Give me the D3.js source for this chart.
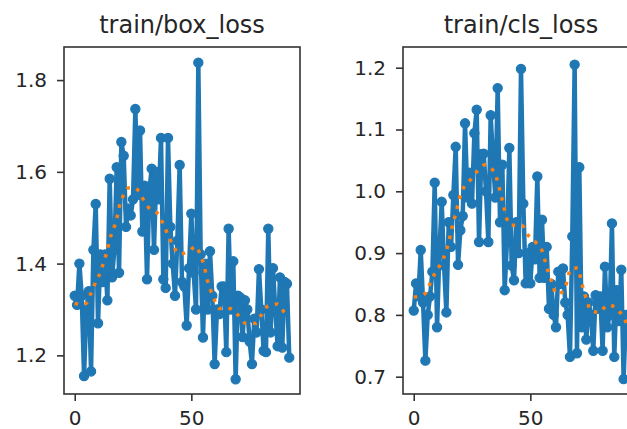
<!DOCTYPE html>
<html lang="en">
<head>
    <meta charset="UTF-8">
    <title>train losses</title>
    <script src="https://d3js.org/d3.v7.min.js"></script>
    <style>
        body { margin: 0; background: #fff; }
        text { font-family: "DejaVu Sans", sans-serif; fill: #262626; }
    </style>
</head>
<body>
    <div id="chart"></div>

    <script>
        // Data
        var epochs = d3.range(0, 93);

        var boxLoss = [1.33, 1.31, 1.40, 1.33, 1.155, 1.30, 1.34, 1.165, 1.43, 1.53,
            1.27, 1.42, 1.36, 1.42, 1.32, 1.585, 1.37, 1.43, 1.61, 1.38,
            1.665, 1.635, 1.48, 1.52, 1.505, 1.54, 1.737, 1.55, 1.69, 1.47,
            1.57, 1.366, 1.56, 1.607, 1.43, 1.60, 1.54, 1.674, 1.366, 1.347,
            1.674, 1.48, 1.40, 1.33, 1.45, 1.615, 1.36, 1.35, 1.265, 1.39,
            1.509, 1.38, 1.30, 1.838, 1.42, 1.239, 1.40, 1.30, 1.427, 1.33,
            1.181, 1.30, 1.29, 1.35, 1.35, 1.207, 1.476, 1.30, 1.405, 1.148,
            1.33, 1.326, 1.24, 1.32, 1.30, 1.23, 1.181, 1.28, 1.25, 1.388,
            1.30, 1.21, 1.207, 1.476, 1.25, 1.39, 1.30, 1.22, 1.37, 1.217,
            1.36, 1.356, 1.195];

        var clsLoss = [0.807, 0.851, 0.83, 0.905, 0.82, 0.726, 0.80, 0.83, 0.87, 1.014,
            0.78, 0.90, 0.983, 0.88, 0.804, 0.95, 0.91, 0.994, 1.072, 0.881,
            0.937, 0.96, 1.110, 0.99, 1.03, 0.98, 1.094, 1.132, 0.918, 1.06,
            1.061, 1.00, 0.918, 1.123, 1.05, 0.99, 1.167, 0.95, 1.043, 0.84,
            0.92, 1.07, 0.88, 0.856, 0.95, 0.90, 1.198, 0.98, 0.851, 0.90,
            0.851, 0.91, 0.89, 1.024, 0.86, 0.954, 0.86, 0.91, 0.81, 0.85,
            0.80, 0.78, 0.87, 0.85, 0.875, 0.82, 0.80, 0.732, 0.927, 1.205,
            0.738, 1.039, 0.78, 0.83, 0.76, 0.82, 0.80, 0.742, 0.832, 0.81,
            0.83, 0.742, 0.878, 0.78, 0.80, 0.948, 0.732, 0.84, 0.79, 0.873,
            0.696, 0.80, 0.77];

        // smoothed curves (orange dotted) as [epoch, value]
        var boxSmooth = [[0, 1.314], [3, 1.31], [5, 1.314], [7, 1.336], [9, 1.36], [11, 1.381],
            [12.5, 1.405], [14, 1.43], [15, 1.452], [16.5, 1.474], [18, 1.497], [19, 1.522],
            [20.5, 1.545], [23, 1.565], [25, 1.566], [27.5, 1.558], [29.5, 1.539], [32, 1.52],
            [36, 1.507], [38, 1.485], [40, 1.463], [42, 1.441], [45, 1.421], [49, 1.427],
            [52, 1.438], [54, 1.416], [55.7, 1.392], [56.6, 1.369], [58, 1.346], [59.7, 1.323],
            [62, 1.302], [66.5, 1.302], [70, 1.288], [73.3, 1.27], [77.5, 1.27], [80, 1.288],
            [83, 1.308], [87, 1.312], [90, 1.293], [92, 1.285]];

        var clsSmooth = [[0, 0.829], [2, 0.83], [5, 0.835], [7, 0.851], [9.3, 0.869], [11.6, 0.883],
            [13.6, 0.9], [15, 0.917], [16, 0.935], [17.2, 0.952], [18.4, 0.97], [19.5, 0.987],
            [21.3, 1.005], [24.2, 1.018], [27.1, 1.032], [30.7, 1.043], [34.3, 1.032], [36.1, 1.014],
            [37.2, 0.997], [38.4, 0.979], [39.4, 0.962], [41.6, 0.945], [46.4, 0.945], [48.8, 0.93],
            [52.4, 0.917], [55, 0.904], [56.5, 0.885], [57.8, 0.868], [59.4, 0.851], [61.1, 0.834],
            [64.3, 0.839], [65.8, 0.855], [67.2, 0.874], [70.3, 0.876], [71.6, 0.859], [72.7, 0.842],
            [74.2, 0.824], [75.9, 0.807], [79.7, 0.804], [82.9, 0.816], [87, 0.811], [89.8, 0.796],
            [92, 0.782]];

        var xTicks = [0, 50];
        var boxTicks = [1.2, 1.4, 1.6, 1.8];
        var clsTicks = [0.7, 0.8, 0.9, 1.0, 1.1, 1.2];

        // Dimensions
        var width = 627;
        var height = 429;
        var frameTop = 47, frameBottom = 394, panelW = 236;

        var svg = d3.select("#chart")
            .append("svg")
            .attr("width", width)
            .attr("height", height);

        function panel(id, left, title, values, smooth, yDomain, yTicks) {
            var x = d3.scaleLinear().domain([-4.6, 96.6]).range([left, left + panelW]);
            var y = d3.scaleLinear().domain(yDomain).range([frameBottom, frameTop]);

            var g = svg.append("g");

            g.append("clipPath").attr("id", id)
                .append("rect")
                .attr("x", left).attr("y", frameTop)
                .attr("width", panelW).attr("height", frameBottom - frameTop);

            var plot = g.append("g").attr("clip-path", "url(#" + id + ")");

            // results line
            plot.append("path")
                .datum(values)
                .attr("fill", "none")
                .attr("stroke", "#1f77b4")
                .attr("stroke-width", 4.5)
                .attr("stroke-linejoin", "round")
                .attr("d", d3.line()
                    .x(function (d, i) { return x(epochs[i]); })
                    .y(function (d) { return y(d); }));

            plot.selectAll("circle")
                .data(values)
                .enter()
                .append("circle")
                .attr("cx", function (d, i) { return x(epochs[i]); })
                .attr("cy", function (d) { return y(d); })
                .attr("r", 4.6)
                .attr("fill", "#1f77b4")
                .attr("stroke", "#1f77b4")
                .attr("stroke-width", 1.2);

            // smooth line
            plot.append("path")
                .datum(smooth)
                .attr("fill", "none")
                .attr("stroke", "#ff7f0e")
                .attr("stroke-width", 3.5)
                .attr("stroke-dasharray", "3.5,6.8")
                .attr("d", d3.line()
                    .curve(d3.curveMonotoneX)
                    .x(function (d) { return x(d[0]); })
                    .y(function (d) { return y(d[1]); }));

            // axes
            var yAxis = d3.axisLeft(y).tickValues(yTicks).tickSize(7).tickPadding(10)
                .tickFormat(d3.format(".1f"));
            var xAxis = d3.axisBottom(x).tickValues(xTicks).tickSize(7).tickPadding(10);

            var ya = g.append("g").attr("transform", "translate(" + left + ",0)").call(yAxis);
            var xa = g.append("g").attr("transform", "translate(0," + frameBottom + ")").call(xAxis);

            [ya, xa].forEach(function (a) {
                a.attr("font-size", null).attr("font-family", null);
                a.select(".domain").remove();
                a.selectAll("line").attr("stroke", "#333").attr("stroke-width", 1.6);
                a.selectAll("text")
                    .style("font-family", "DejaVu Sans")
                    .style("font-size", "20px")
                    .attr("fill", "#262626");
            });

            // frame
            g.append("rect")
                .attr("x", left).attr("y", frameTop)
                .attr("width", panelW).attr("height", frameBottom - frameTop)
                .attr("fill", "none")
                .attr("stroke", "#333")
                .attr("stroke-width", 1.6);

            g.append("text")
                .attr("x", left + panelW / 2)
                .attr("y", 33)
                .attr("text-anchor", "middle")
                .style("font-size", "24px")
                .text(title);
        }

        panel("clipBox", 64, "train/box_loss", boxLoss, boxSmooth, [1.1158, 1.8721], boxTicks);
        panel("clipCls", 403, "train/cls_loss", clsLoss, clsSmooth, [0.672, 1.2335], clsTicks);
    </script>
</body>
</html>
